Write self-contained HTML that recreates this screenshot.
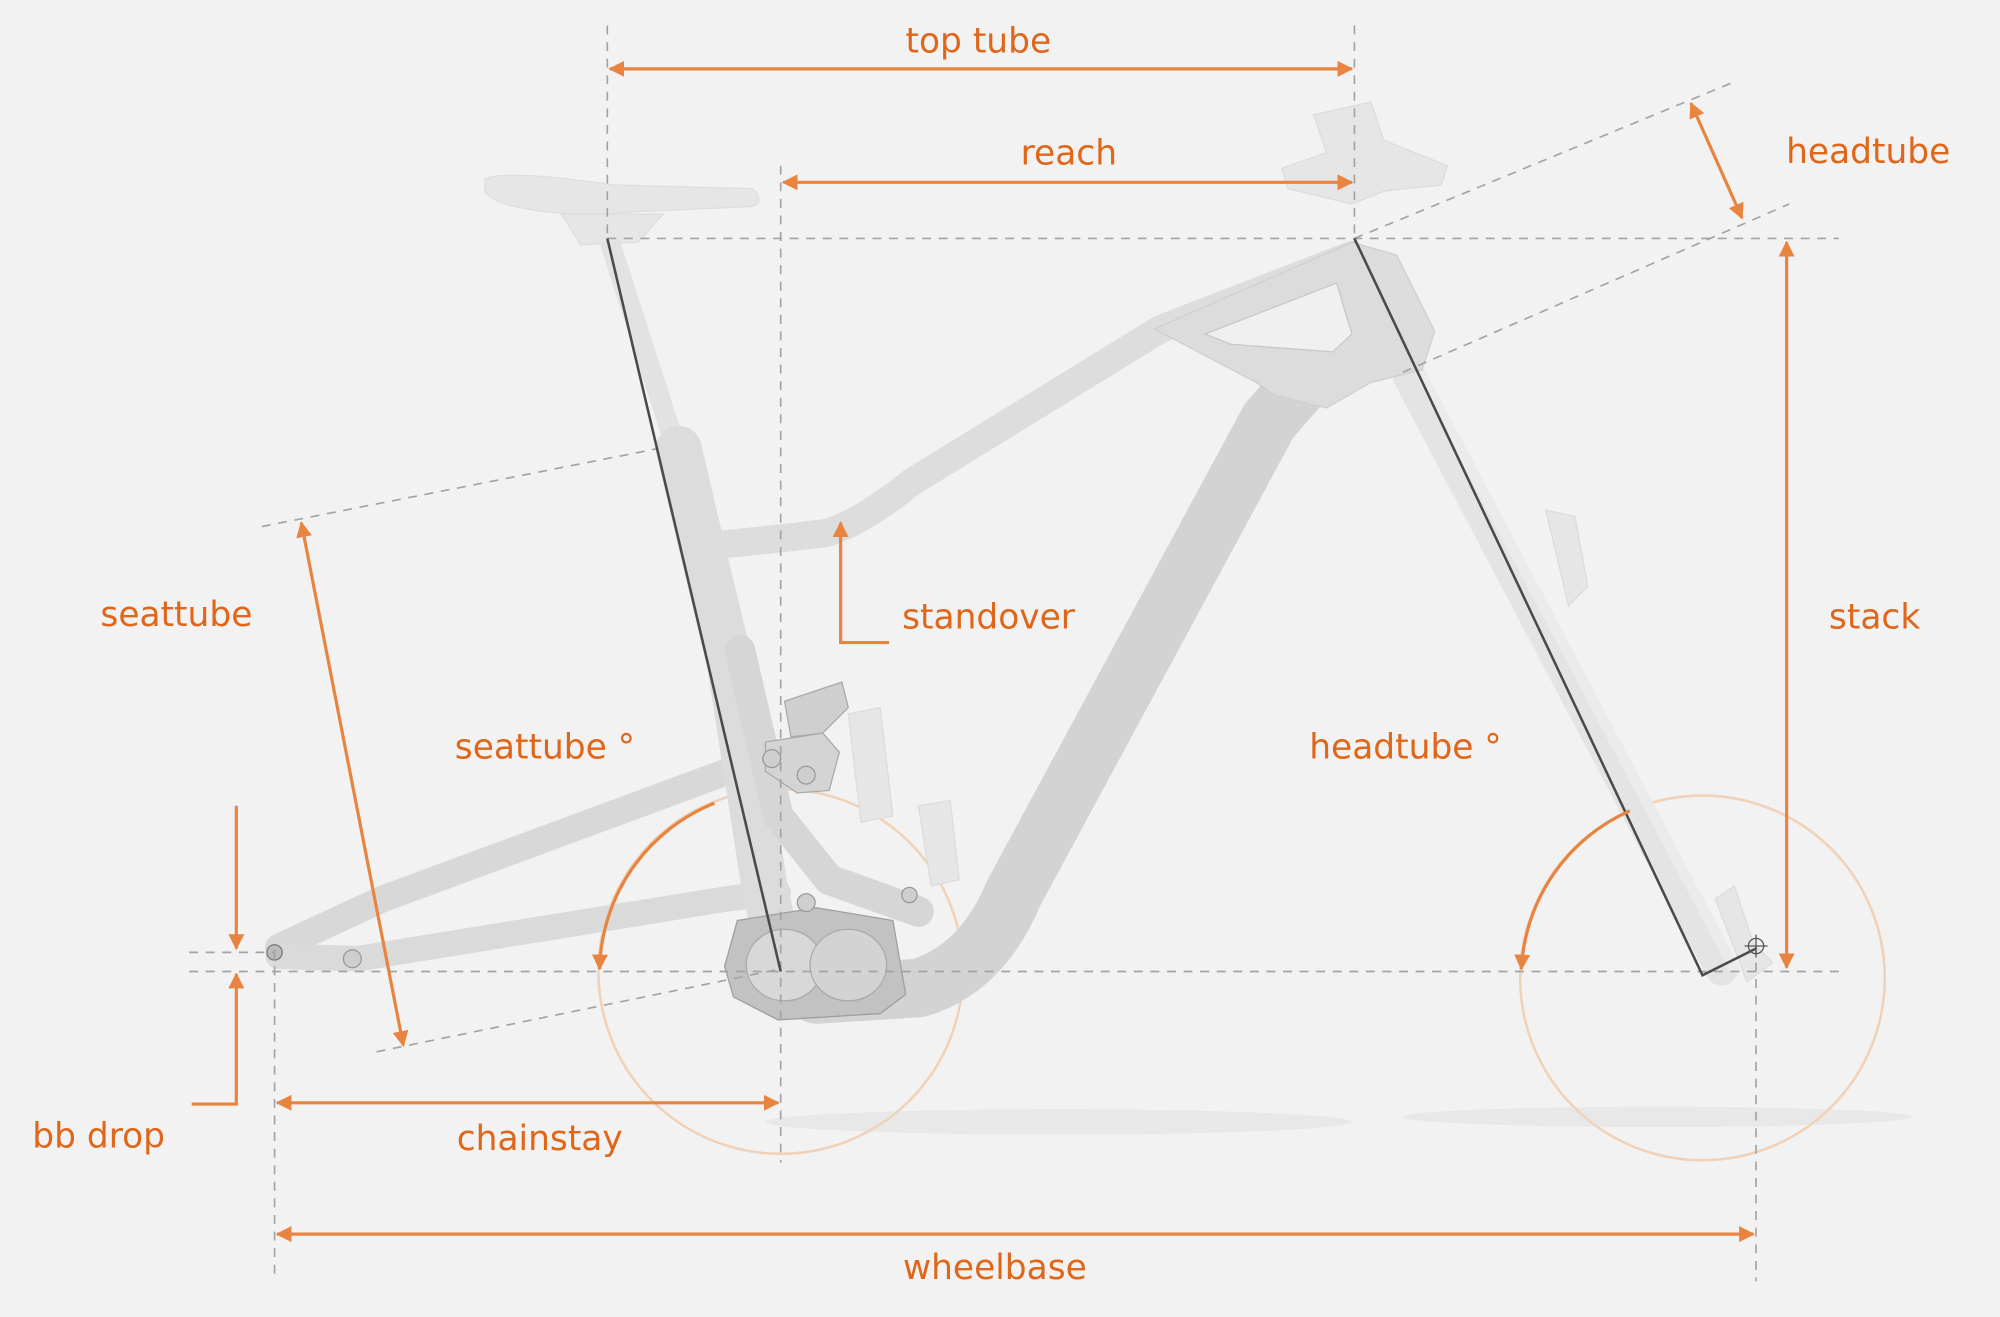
<!DOCTYPE html>
<html><head><meta charset="utf-8"><style>
html,body{margin:0;padding:0;background:#f2f2f2;}
svg{display:block}
text{font-family:"DejaVu Sans","Liberation Sans",sans-serif;fill:#e0661a;font-size:27px;text-anchor:middle}
</style></head><body>
<svg width="2000" height="1317" viewBox="0 0 1568 1033" xmlns="http://www.w3.org/2000/svg">
<defs>
<marker id="a" viewBox="0 0 10 10" refX="9" refY="5" markerWidth="5" markerHeight="5" orient="auto-start-reverse"><path d="M0,0 L10,5 L0,10 z" fill="#e8843f"/></marker>
</defs>
<rect width="1568" height="1033" fill="#f2f2f2"/>
<ellipse cx="830" cy="880" rx="230" ry="10" fill="#e8e8e8"/>
<ellipse cx="1300" cy="876" rx="200" ry="8" fill="#e8e8e8"/>
<circle cx="612" cy="762" r="143" fill="none" stroke="#f0d2b8" stroke-width="2"/>
<circle cx="1335" cy="767" r="143" fill="none" stroke="#f0d2b8" stroke-width="2"/>
<g stroke-linecap="round" fill="none">
<line x1="1105" y1="295" x2="1350" y2="760" stroke="#e4e4e4" stroke-width="26"/>
<line x1="1115" y1="295" x2="1360" y2="760" stroke="#ebebeb" stroke-width="8"/>
</g>
<g fill="#e6e6e6" stroke="#dcdcdc">
<path d="M1212,400 L1235,405 L1245,460 L1230,475 Z"/>
<path d="M1345,705 L1360,695 L1375,740 L1390,755 L1370,770 Z"/>
<path d="M1030,90 L1075,80 L1085,110 L1135,130 L1130,145 L1085,150 L1060,160 L1010,148 L1005,132 L1040,120 Z"/>
<path d="M720,632 L745,628 L752,690 L730,695 Z"/>
<path d="M665,560 L690,555 L700,640 L675,645 Z"/>
</g>
<g fill="#e6e6e6" stroke="#dedede">
<path d="M380,140 Q400,133 480,145 L590,148 Q600,158 590,162 L500,166 Q450,170 420,165 Q385,160 380,150 Z"/>
<path d="M440,168 L520,168 L500,190 L455,192 Z"/>
</g>
<line x1="478" y1="190" x2="530" y2="352" stroke="#e2e2e2" stroke-width="16"/>
<g fill="none" stroke-linecap="round" stroke-linejoin="round">
<path d="M218,743 L300,705 L606,592" stroke="#d8d8d8" stroke-width="21"/>
<path d="M218,750 L280,752 L570,705 L610,700" stroke="#dadada" stroke-width="20"/>
<path d="M532,352 L548,420 L572,520 L600,700 L612,750" stroke="#dcdcdc" stroke-width="36"/>
<path d="M555,428 Q600,424 648,418 Q675,410 715,378 L910,258 L1060,200" stroke="#dddddd" stroke-width="22"/>
<path d="M1030,290 L995,330 L795,700 Q770,760 720,775 L640,780" stroke="#d3d3d3" stroke-width="46"/>
<path d="M580,510 L610,640 L650,690 L720,715" stroke="#d6d6d6" stroke-width="24"/>
</g>
<path d="M905,258 L1060,190 L1095,200 L1125,260 L1115,290 L1075,300 L1040,320 L1000,310 L985,300 Z" fill="#dcdcdc" stroke="#cfcfcf"/>
<path d="M945,262 L1048,222 L1060,262 L1045,276 L965,270 Z" fill="#f0f0f0" stroke="#c8c8c8"/>
<path d="M615,550 L660,535 L665,555 L645,575 L620,578 Z" fill="#cfcfcf" stroke="#aaa"/>
<path d="M600,582 L645,575 L658,590 L650,620 L625,622 L600,605 Z" fill="#d4d4d4" stroke="#aaa"/>
<path d="M578,722 L640,712 L700,722 L710,780 L690,795 L610,800 L575,782 L568,758 Z" fill="#c2c2c2" stroke="#9e9e9e"/>
<ellipse cx="615" cy="757" rx="30" ry="28" fill="#d8d8d8" stroke="#aaa"/>
<ellipse cx="665" cy="757" rx="30" ry="28" fill="#d3d3d3" stroke="#aaa"/>
<g fill="#cfcfcf" stroke="#999">
<circle cx="605" cy="595" r="7"/><circle cx="632" cy="608" r="7"/>
<circle cx="632" cy="708" r="7"/><circle cx="713" cy="702" r="6"/>
<circle cx="276" cy="752" r="7"/>
</g>
<circle cx="215" cy="747" r="6" fill="#bbb" stroke="#777"/>
<g stroke="#a3a3a3" stroke-width="1.3" stroke-dasharray="7,6" fill="none">
<line x1="476" y1="20" x2="476" y2="190"/>
<line x1="612" y1="130" x2="612" y2="912"/>
<line x1="1062" y1="20" x2="1062" y2="190"/>
<line x1="215" y1="745" x2="215" y2="1002"/>
<line x1="1377" y1="742" x2="1377" y2="1005"/>
<line x1="476" y1="187" x2="1442" y2="187"/>
<line x1="148" y1="762" x2="1445" y2="762"/>
<line x1="148" y1="747" x2="215" y2="747"/>
<line x1="1062" y1="187" x2="1358" y2="65"/>
<line x1="1100" y1="292" x2="1403" y2="160"/>
<line x1="205" y1="413" x2="515" y2="352"/>
<line x1="295" y1="825" x2="612" y2="760"/>
</g>
<g stroke="#4a4a4a" stroke-width="2" fill="none">
<line x1="476" y1="187" x2="612" y2="762"/>
<polyline points="1062,187 1335,765 1377,744"/>
</g>
<circle cx="1377" cy="742" r="6" fill="none" stroke="#555"/>
<line x1="1368" y1="742" x2="1386" y2="742" stroke="#555"/>
<line x1="1377" y1="733" x2="1377" y2="751" stroke="#555"/>
<g stroke="#e8843f" stroke-width="2.5" fill="none">
<line x1="478" y1="54" x2="1060" y2="54" marker-start="url(#a)" marker-end="url(#a)"/>
<line x1="614" y1="143" x2="1060" y2="143" marker-start="url(#a)" marker-end="url(#a)"/>
<line x1="1326" y1="81" x2="1366" y2="171" marker-start="url(#a)" marker-end="url(#a)"/>
<line x1="1401" y1="190" x2="1401" y2="759" marker-start="url(#a)" marker-end="url(#a)"/>
<line x1="236" y1="410" x2="316" y2="820" marker-start="url(#a)" marker-end="url(#a)"/>
<polyline points="697,504 659,504 659,410" marker-end="url(#a)"/>
<line x1="185" y1="632" x2="185" y2="744" marker-end="url(#a)"/>
<polyline points="150,866 185,866 185,764" marker-end="url(#a)"/>
<line x1="217" y1="865" x2="610" y2="865" marker-start="url(#a)" marker-end="url(#a)"/>
<line x1="217" y1="968" x2="1375" y2="968" marker-start="url(#a)" marker-end="url(#a)"/>
<path d="M560,630 A143,143 0 0 0 470,760" marker-end="url(#a)"/>
<path d="M1278,636 A143,143 0 0 0 1193,760" marker-end="url(#a)"/>
</g>
<text x="767" y="41">top tube</text>
<text x="838" y="129">reach</text>
<text x="1465" y="128">headtube</text>
<text x="1470" y="493">stack</text>
<text x="138" y="491">seattube</text>
<text x="775" y="493">standover</text>
<text x="427" y="595">seattube °</text>
<text x="1102" y="595">headtube °</text>
<text x="77" y="900">bb drop</text>
<text x="423" y="902">chainstay</text>
<text x="780" y="1003">wheelbase</text>
</svg>
</body></html>
